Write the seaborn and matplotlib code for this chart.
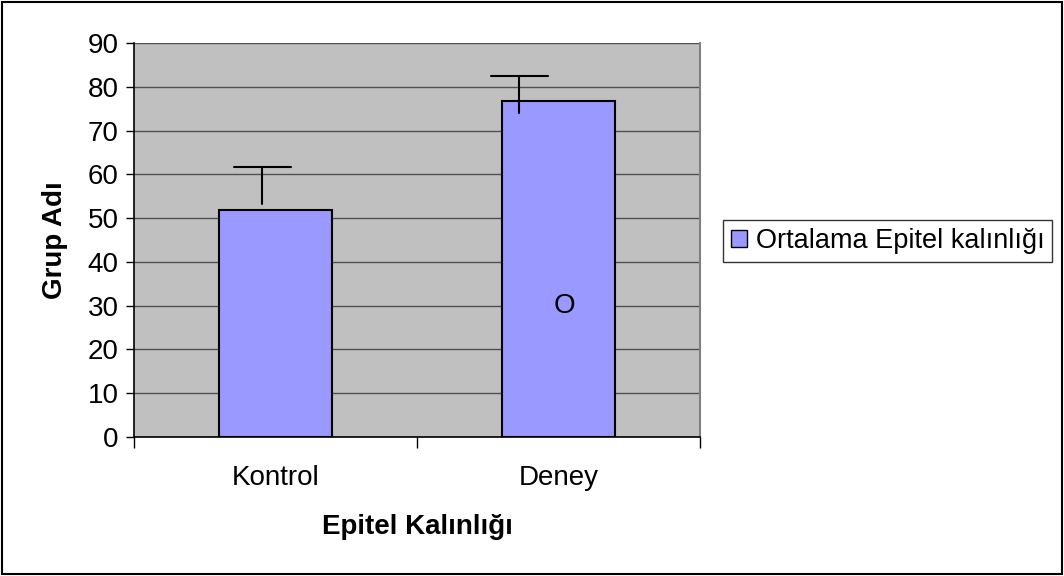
import numpy as np
import pandas as pd
import matplotlib
matplotlib.use('Agg')
import matplotlib.pyplot as plt
import matplotlib.patches as mpatches
import seaborn as sns

# values
categories = ['Kontrol', 'Deney']
means = [51.8, 76.7]
err_low = [53.2, 74.1]
err_high = [61.6, 82.5]
series_name = 'Ortalama Epitel kalınlığı'
yticks = list(range(0, 91, 10))

# style
bar_color = '#9999FF'
plot_bg = '#C0C0C0'
grid_color = '#505050'
err_shift = [-0.046, -0.138]   # error bars sit left of the bar centre in the original
cap_half = 0.1
fs = 20

sns.set_theme(style='white')
plt.rcParams['font.family'] = ['Liberation Sans', 'DejaVu Sans']
plt.rcParams['text.color'] = 'black'
plt.rcParams['xtick.color'] = 'black'
plt.rcParams['ytick.color'] = 'black'
plt.rcParams['axes.labelcolor'] = 'black'

df = pd.DataFrame({'group': categories, 'value': means, 'series': series_name})

fig = plt.figure(figsize=(10.64, 5.76), dpi=100)
ax = fig.add_axes([134 / 1064, 1 - 437 / 576, 566 / 1064, 394 / 576])
ax.set_facecolor(plot_bg)

sns.barplot(data=df, x='group', y='value', hue='series', palette=[bar_color],
            saturation=1, width=0.4, edgecolor='black', linewidth=1.5, ax=ax, zorder=3)

# error bars (upper only, drawn as stem + cap)
for i in range(len(categories)):
    x = i + err_shift[i]
    ax.plot([x, x], [err_low[i], err_high[i]], color='black', lw=1.5, zorder=4)
    ax.plot([x - cap_half, x + cap_half], [err_high[i], err_high[i]], color='black', lw=1.5, zorder=4)

ax.text(1.02, 30, 'O', ha='center', va='center', fontsize=fs, color='black', zorder=5)

ax.set_xlim(-0.5, 1.5)
ax.set_ylim(0, 90)
ax.set_yticks(yticks)
ax.yaxis.grid(True, color=grid_color, lw=1)
ax.set_axisbelow(True)

ax.set_xticks([-0.5, 0.5, 1.5], minor=False)
ax.set_xticklabels(['', '', ''])
ax.set_xticks([0, 1], minor=True)
ax.set_xticklabels(categories, minor=True, fontsize=fs)
ax.tick_params(axis='x', which='major', direction='out', length=8, width=1, color='black', bottom=True)
ax.tick_params(axis='x', which='minor', length=0, pad=20)
ax.tick_params(axis='y', direction='out', length=6, width=1, color='black', left=True, labelsize=fs, pad=5)

for side in ['left', 'bottom']:
    ax.spines[side].set_color('black')
    ax.spines[side].set_linewidth(1.2)
ax.spines['right'].set_color('#808080')
ax.spines['right'].set_linewidth(1.5)
ax.spines['top'].set_visible(False)

ax.set_xlabel('Epitel Kalınlığı', fontsize=fs, fontweight='bold', labelpad=17)
ax.set_ylabel('Grup Adı', fontsize=fs, fontweight='bold', labelpad=14)

ax.get_legend().remove()
handle = mpatches.Patch(facecolor=bar_color, edgecolor='black', linewidth=1)
leg = fig.legend([handle], [series_name], loc='center left',
                 bbox_to_anchor=(723 / 1064, 1 - 241 / 576), fontsize=19.5,
                 frameon=True, fancybox=False, shadow=False,
                 handlelength=0.6, handleheight=0.6, handletextpad=0.3,
                 borderpad=0.3, borderaxespad=0)
leg.get_frame().set_edgecolor('black')
leg.get_frame().set_linewidth(1)

# outer chart border
fig.patches.append(mpatches.Rectangle((2 / 1064, 2 / 576), 1 - 4 / 1064, 1 - 4 / 576,
                                      transform=fig.transFigure, fill=False,
                                      edgecolor='black', linewidth=1.5))

fig.savefig('out.png', dpi=100)
